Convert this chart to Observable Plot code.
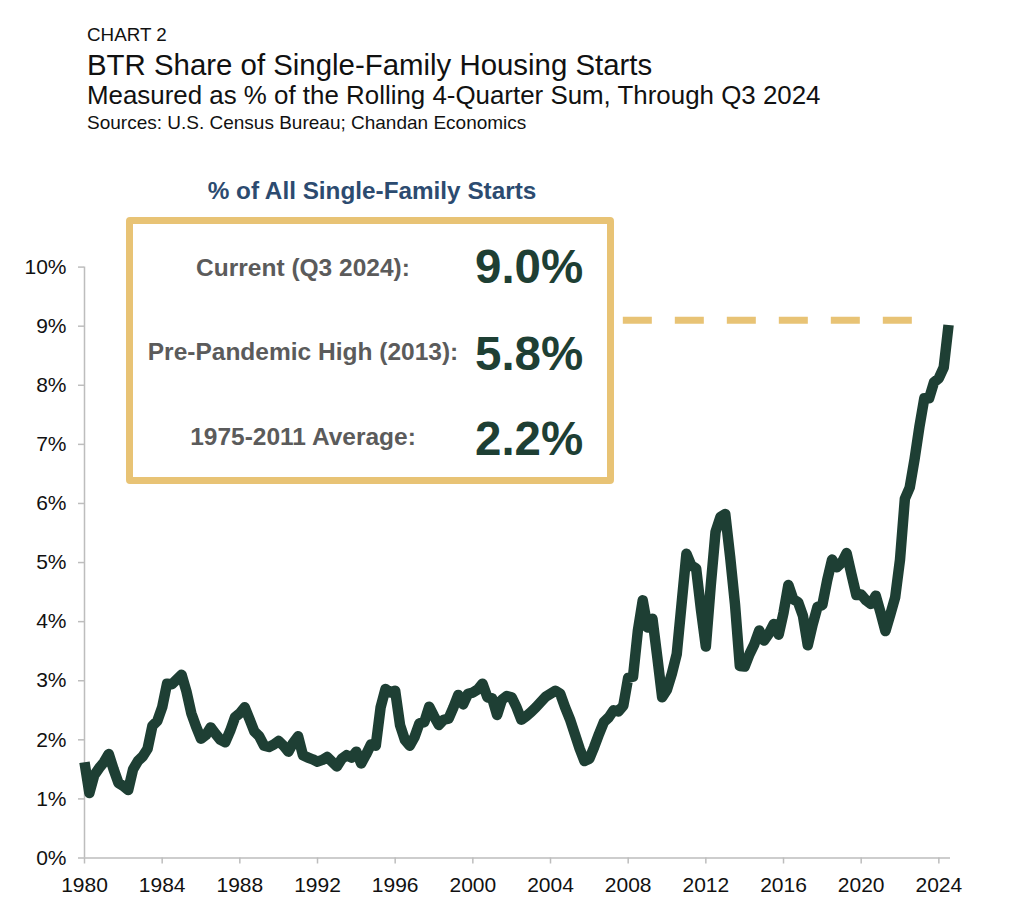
<!DOCTYPE html>
<html><head><meta charset="utf-8">
<script src="https://cdn.jsdelivr.net/npm/d3@7"></script>
<script src="https://cdn.jsdelivr.net/npm/@observablehq/plot@0.6"></script>
<style>
body{margin:0;background:#fff;font-family:"Liberation Sans",Arial,sans-serif;}
#page{position:relative;width:1024px;height:902px;overflow:hidden;background:#fff;}
.t{position:absolute;left:87px;white-space:nowrap;line-height:1;color:#111;}
.lbl{position:absolute;white-space:nowrap;line-height:1;font-weight:bold;font-size:24.5px;color:#5b5b5b;transform:translateX(-50%);}
.val{position:absolute;left:475px;white-space:nowrap;line-height:1;font-weight:bold;font-size:47.5px;color:#1e3f34;}
#chart{position:absolute;left:0;top:150px;}
#box{position:absolute;left:126px;top:216.5px;width:488px;height:267.5px;border:7px solid #e8c375;border-radius:4px;box-sizing:border-box;}
#ptitle{position:absolute;left:372px;top:179px;transform:translateX(-50%);white-space:nowrap;line-height:1;font-weight:bold;font-size:24.3px;color:#2c4b70;}
</style></head><body>
<div id="page">
  <div class="t" style="top:26px;font-size:18.8px">CHART 2</div>
  <div class="t" style="top:49.5px;font-size:29.4px">BTR Share of Single-Family Housing Starts</div>
  <div class="t" style="top:83px;font-size:25.9px">Measured as % of the Rolling 4-Quarter Sum, Through Q3 2024</div>
  <div class="t" style="top:112.5px;font-size:19px">Sources: U.S. Census Bureau; Chandan Economics</div>
  <div id="chart"></div>
  <div id="ptitle">% of All Single-Family Starts</div>
  <div id="box"></div>
  <div class="lbl" style="left:303px;top:255.5px">Current (Q3 2024):</div>
  <div class="lbl" style="left:303px;top:339.5px">Pre-Pandemic High (2013):</div>
  <div class="lbl" style="left:303px;top:424.5px">1975-2011 Average:</div>
  <div class="val" style="top:243px">9.0%</div>
  <div class="val" style="top:330px">5.8%</div>
  <div class="val" style="top:415px">2.2%</div>
</div>
<script>
// Years and quarterly BTR share (% of rolling 4-quarter single-family starts)
const years = [1980,1981,1982,1983,1984,1985,1986,1987,1988,1989,1990,1991,1992,1993,1994,1995,1996,1997,1998,1999,2000,2001,2002,2003,2004,2005,2006,2007,2008,2009,2010,2011,2012,2013,2014,2015,2016,2017,2018,2019,2020,2021,2022,2023,2024];
const q1 = [1.62,1.62,1.22,1.72,2.55,3.10,2.02,2.00,2.45,2.06,1.98,2.06,1.63,1.55,1.80,1.90,2.83,2.05,2.40,2.55,2.80,2.70,2.72,2.47,2.78,2.35,1.68,2.38,3.05,3.90,2.85,5.15,3.58,5.82,3.24,3.68,4.15,4.10,4.28,5.00,4.46,4.15,5.05,7.30,8.12];
const q2 = [1.10,1.76,1.15,1.85,2.95,2.82,2.08,1.96,2.55,1.90,1.90,1.74,1.66,1.68,1.60,2.55,2.25,2.28,2.25,2.76,2.85,2.42,2.55,2.55,2.83,2.10,1.88,2.50,3.07,4.05,3.12,4.95,4.60,5.10,3.45,3.80,4.62,3.60,4.70,5.16,4.36,3.84,6.08,7.78,8.30];
const q3 = [1.40,1.50,1.50,2.24,2.94,2.45,2.21,2.15,2.35,1.88,1.80,1.70,1.71,1.74,1.75,2.86,2.00,2.30,2.34,2.60,2.95,2.68,2.34,2.64,2.78,1.85,2.10,2.48,3.85,3.40,3.45,4.90,5.52,4.30,3.62,3.96,4.38,3.95,5.05,4.80,4.30,4.12,6.27,7.78,9.02];
const q4 = [1.52,1.27,1.64,2.32,3.02,2.22,2.10,2.38,2.14,1.92,1.95,1.67,1.63,1.70,1.92,2.80,1.90,2.56,2.36,2.78,2.72,2.74,2.40,2.73,2.55,1.64,2.30,2.58,4.36,2.72,4.30,4.20,5.77,3.25,3.85,3.78,4.33,4.25,4.92,4.45,4.44,4.41,6.75,8.05];
const quarterOffsets = [0, 0.25, 0.5, 0.75];
const yTicks = [0,1,2,3,4,5,6,7,8,9,10];
const xTicks = [1980,1984,1988,1992,1996,2000,2004,2008,2012,2016,2020,2024];
const currentLevel = 9.1;               // dashed guide level
const guideSpan = [2007.75, 2022.8];    // dashed guide extent

const series = [];
years.forEach((yr, i) => {
  [q1, q2, q3, q4].forEach((arr, k) => {
    if (arr[i] !== undefined) series.push({t: yr + quarterOffsets[k], v: arr[i]});
  });
});

const green = "#1e3f34", gold = "#e8c375", axisGray = "#bdbdbd";

const chart = Plot.plot({
  width: 1024,
  height: 752,
  marginTop: 116.6,
  marginBottom: 44.5,
  marginLeft: 84,
  marginRight: 74,
  style: {fontFamily: "'Liberation Sans', Arial, sans-serif", fontSize: "21px", color: "#111", background: "transparent"},
  x: {domain: [1980, 2024.6]},
  y: {domain: [0, 10]},
  marks: [
    Plot.ruleX([1980], {stroke: axisGray, strokeWidth: 1.5}),
    Plot.ruleY([0], {stroke: axisGray, strokeWidth: 1.5}),
    Plot.axisY({ticks: yTicks, tickFormat: d => d + "%", tickSize: 6, tickPadding: 12, stroke: axisGray, strokeWidth: 1.5, label: null, fontSize: 21, fill: "#111"}),
    Plot.axisX({ticks: xTicks, tickFormat: d => String(d), tickSize: 6, tickPadding: 13, stroke: axisGray, strokeWidth: 1.5, label: null, fontSize: 21, fill: "#111"}),
    Plot.ruleY([currentLevel], {x1: guideSpan[0], x2: guideSpan[1], stroke: gold, strokeWidth: 7, strokeDasharray: "29,23"}),
    Plot.line(series, {x: "t", y: "v", stroke: green, strokeWidth: 10.5, strokeLinejoin: "round", strokeLinecap: "butt"})
  ]
});
document.getElementById("chart").appendChild(chart);
</script>
</body></html>
